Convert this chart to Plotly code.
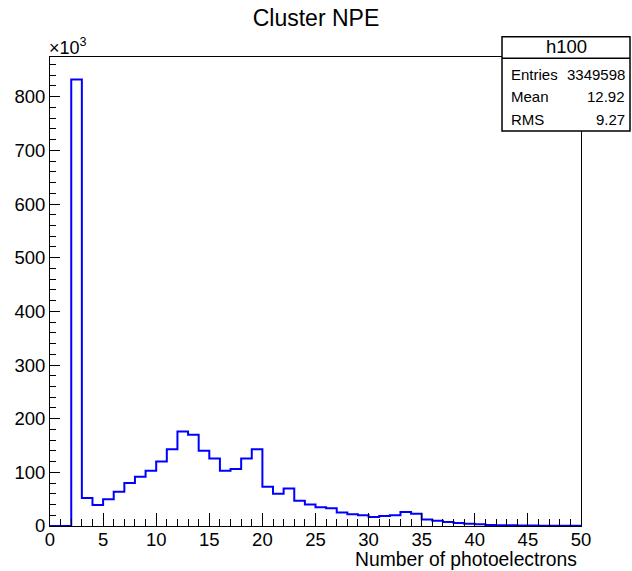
import plotly.graph_objects as go

# bin lower edges (1 photoelectron wide bins, 0..50)
bin_edges = list(range(0, 51))
# counts per bin, in units of 10^3
counts_k = [0, 0, 832, 52, 39, 50, 64, 80, 92, 103,
            120, 143, 176, 170, 140, 126, 103, 106, 126, 143,
            73, 60, 70, 47, 40, 35, 33, 25, 22, 20,
            17, 18.5, 20, 26, 23, 12, 10, 7.5, 5.6, 4.4,
            3.1, 2, 1.5, 1.2, 1.0, 0.8, 0.6, 0.5, 0.4, 0.3]

hist_name = "h100"
stat_labels = ["Entries", "Mean", "RMS"]
stat_values = ["3349598", "12.92", "9.27"]

FONT = "Liberation Sans, Arial, Helvetica, sans-serif"
W, H = 632, 571
L, R, T, B = 50, 51, 57, 45
pw, ph = W - L - R, H - T - B


def px_x(p):
    return (p - L) / pw


def px_y(p):
    return (H - B - p) / ph


fig = go.Figure()
fig.add_trace(go.Scatter(
    x=bin_edges,
    y=counts_k + [counts_k[-1]],
    mode="lines",
    line=dict(color="#0000ff", width=2, shape="hv"),
    showlegend=False,
    hoverinfo="skip",
))

axis_common = dict(
    showline=True, mirror=True, linecolor="black", linewidth=1,
    showgrid=False, zeroline=False, ticks="inside", tickcolor="black",
    tickwidth=1, tickfont=dict(family=FONT, size=18.5, color="black"),
)

fig.update_xaxes(range=[0, 50], dtick=5, tick0=0, ticklen=13, ticklabelstandoff=-3,
                 minor=dict(ticks="inside", dtick=1, ticklen=7, tickcolor="black", showgrid=False),
                 **axis_common)
fig.update_yaxes(range=[0, 874], dtick=100, tick0=0, ticklen=10,
                 minor=dict(ticks="inside", dtick=20, ticklen=6, tickcolor="black", showgrid=False),
                 **axis_common)

# stats box
x0, x1 = px_x(502), px_x(630)
fig.add_shape(type="rect", xref="paper", yref="paper", x0=x0, x1=x1,
              y0=px_y(131), y1=px_y(36.7), line=dict(color="black", width=1.5),
              fillcolor="white", layer="above")
fig.add_shape(type="line", xref="paper", yref="paper", x0=x0, x1=x1,
              y0=px_y(58.3), y1=px_y(58.3), line=dict(color="black", width=1.5),
              layer="above")

ann = [
    dict(text=hist_name, x=px_x(566), y=px_y(47), xanchor="center", yanchor="middle",
         font=dict(family=FONT, size=18.5, color="black")),
    dict(text="×10<sup>3</sup>", x=px_x(47), y=px_y(47), xanchor="left", yanchor="middle",
         font=dict(family=FONT, size=18, color="black")),
    dict(text="Number of photoelectrons", x=px_x(579), y=px_y(559), xanchor="right",
         yanchor="middle", font=dict(family=FONT, size=19.3, color="black")),
]
for lab, val, py in zip(stat_labels, stat_values, [74.3, 96.7, 119]):
    ann.append(dict(text=lab, x=px_x(509), y=px_y(py), xanchor="left", yanchor="middle",
                    font=dict(family=FONT, size=15, color="black")))
    ann.append(dict(text=val, x=px_x(627), y=px_y(py), xanchor="right", yanchor="middle",
                    font=dict(family=FONT, size=15, color="black")))
for a in ann:
    a.update(xref="paper", yref="paper", showarrow=False)
fig.update_layout(annotations=ann)

fig.update_layout(
    width=W, height=H,
    margin=dict(l=L, r=R, t=T, b=B),
    plot_bgcolor="white", paper_bgcolor="white",
    title=dict(text="Cluster NPE", x=0.5, xanchor="center", y=1 - 18 / H, yanchor="middle",
               yref="container", font=dict(family=FONT, size=23, color="black")),
)

fig.write_html("out.html", config={"displayModeBar": False},
               post_script="document.body.style.margin='0';")
